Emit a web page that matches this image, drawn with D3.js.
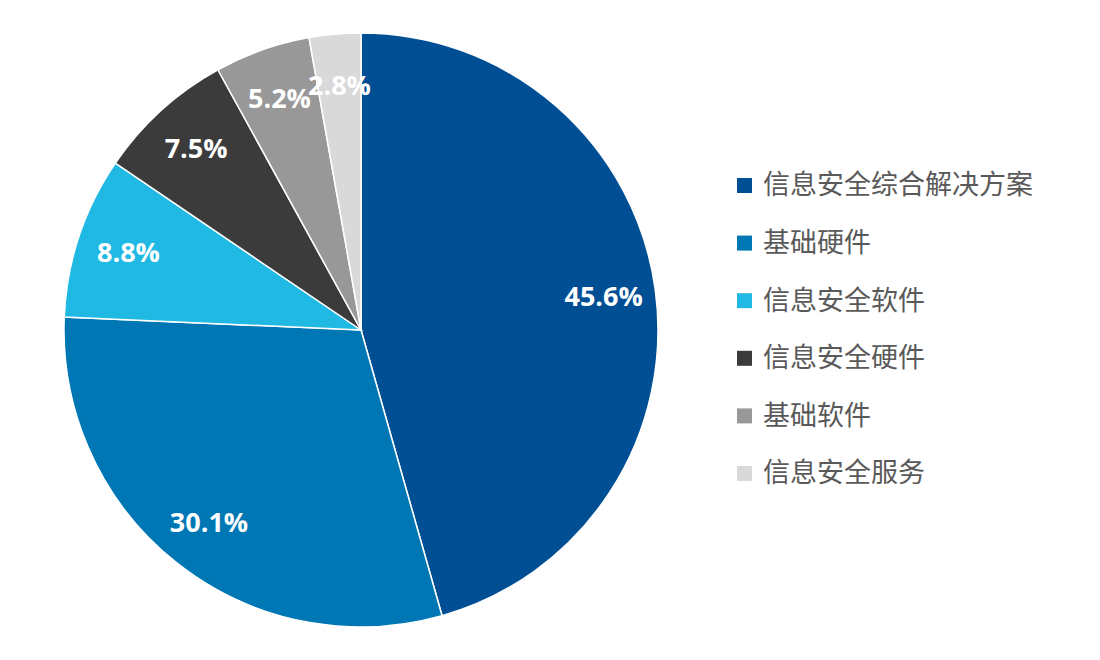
<!DOCTYPE html>
<html><head><meta charset="utf-8">
<script src="https://cdn.jsdelivr.net/npm/d3@7"></script>
<style>body{margin:0;background:#fff}</style>
</head><body><div id="main"></div>
<script>
var categories=['信息安全综合解决方案','基础硬件','信息安全软件','信息安全硬件','基础软件','信息安全服务'];
var values=[45.6,30.1,8.8,7.5,5.2,2.8];
var colors=['#004f95','#0077b5','#1fb9e3','#3b3b3b','#989898','#d9d9d9'];

var width=1100,height=660,cx=361,cy=330,radius=297;
var svg=d3.select('#main').append('svg').attr('width',width).attr('height',height);
var g=svg.append('g').attr('transform','translate('+cx+','+cy+')');
var pie=d3.pie().sort(null).value(function(d){return d;});
var arc=d3.arc().innerRadius(0).outerRadius(radius);
var labelArc=d3.arc().innerRadius(245).outerRadius(245);
var arcs=pie(values);

g.selectAll('path').data(arcs).enter().append('path')
  .attr('d',arc).attr('fill',function(d,i){return colors[i];})
  .attr('stroke','#fff').attr('stroke-width',1.5);

g.selectAll('text').data(arcs).enter().append('text')
  .attr('transform',function(d){return 'translate('+labelArc.centroid(d)+')';})
  .attr('text-anchor','middle').attr('dy','0.35em')
  .attr('fill','#fff').attr('font-weight','bold').attr('font-size',27)
  .attr('font-family','"Open Sans","Noto Sans",sans-serif')
  .text(function(d){return d.data.toFixed(1)+'%';});

var legend=svg.append('g').attr('transform','translate(737,185)');
var rows=legend.selectAll('g').data(categories).enter().append('g')
  .attr('transform',function(d,i){return 'translate(0,'+(i*57.6)+')';});
rows.append('rect').attr('x',0).attr('y',-7).attr('width',15).attr('height',15)
  .attr('fill',function(d,i){return colors[i];});
rows.append('text').attr('x',26).attr('dy','0.35em')
  .attr('font-size',27).attr('fill','#595959')
  .attr('font-family','"Noto Sans CJK SC",sans-serif')
  .text(function(d){return d;});
</script></body></html>
